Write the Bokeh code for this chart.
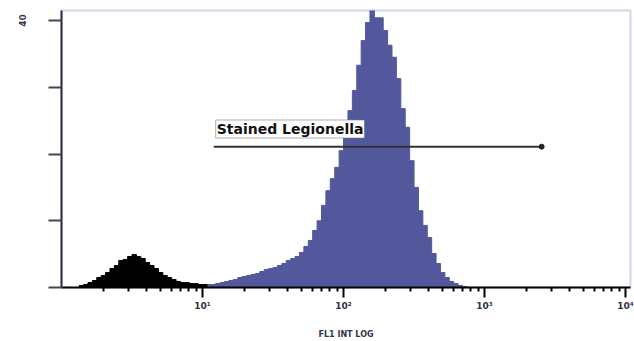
import numpy as np
from bokeh.plotting import figure
from bokeh.models import Label, FixedTicker
from bokeh.embed import file_html
from bokeh.resources import INLINE

# histogram channels: 32 channels per decade, log scale 10^0 .. 10^4
channels_per_decade = 32
unstained_start = 4
unstained_counts = [0.3, 0.45, 0.75, 1.05, 1.5, 1.8, 2.25, 2.85, 3.3, 4.05, 4.2, 4.65, 4.95, 4.65,
                    4.35, 3.75, 3.3, 2.85, 2.25, 1.8, 1.5, 1.2, 0.9, 0.75, 0.75, 0.6, 0.6, 0.45, 0.45]
stained_start = 33
stained_counts = [0.45, 0.45, 0.6, 0.75, 0.9, 1.05, 1.2, 1.5, 1.65, 1.8, 1.95, 2.1, 2.4, 2.7, 2.85,
                  3.0, 3.3, 3.6, 4.05, 4.35, 4.65, 5.25, 6.15, 7.05, 8.55, 10.0, 12.3, 14.5, 16.3,
                  18.0, 20.5, 23.8, 26.5, 29.5, 33.3, 37.0, 39.7, 42.0, 40.4, 40.4, 38.5, 36.3, 34.5,
                  31.3, 26.8, 24.0, 19.0, 15.0, 11.5, 9.3, 7.5, 5.1, 3.6, 2.25, 1.5, 0.9, 0.6, 0.3, 0.15]

x_ticks = [10, 100, 1000, 10000]
x_tick_labels = ["10\u00b9", "10\u00b2", "10\u00b3", "10\u2074"]
y_ticks = [0, 10, 20, 30, 40]
y_tick_labels = ["", "", "", "", "40"]

gate_lo, gate_hi, gate_y = 12.0, 2540.0, 21.1
gate_text = "Stained Legionella"
gate_text_x, gate_text_y = 12.4, 22.4
x_axis_title = "FL1 INT LOG"

BLUE = "#52589b"

p = figure(width=634, height=341, x_axis_type="log", x_range=(1, 10**4.035), y_range=(0, 41.5),
           output_backend="svg", toolbar_location=None,
           min_border_left=61, min_border_right=4, min_border_top=10, min_border_bottom=54)
p.grid.visible = False
p.background_fill_color = "white"
p.border_fill_color = "white"
p.outline_line_color = "#d6d6ea"
p.outline_line_width = 2


def step_outline(start, counts):
    idx = np.arange(start, start + len(counts))
    left = 10 ** (idx / channels_per_decade)
    right = 10 ** ((idx + 1) / channels_per_decade)
    c = np.asarray(counts, dtype=float)
    xs = np.concatenate([[left[0]], np.column_stack([left, right]).ravel(), [right[-1]]])
    ys = np.concatenate([[0.0], np.column_stack([c, c]).ravel(), [0.0]])
    return xs, ys


xs, ys = step_outline(stained_start, stained_counts)
p.patch(xs, ys, fill_color=BLUE, line_color=BLUE, line_width=1)
xs, ys = step_outline(unstained_start, unstained_counts)
p.patch(xs, ys, fill_color="black", line_color="black", line_width=1)

# gate
p.segment(x0=[gate_lo], y0=[gate_y], x1=[gate_hi], y1=[gate_y], line_color="#333333", line_width=2)
p.scatter(x=[gate_hi], y=[gate_y], size=5, color="#222222")
p.add_layout(Label(x=gate_text_x, y=gate_text_y, text=gate_text, text_font="DejaVu Sans",
                   text_font_style="bold", text_font_size="14px", text_color="#111111",
                   background_fill_color="white", border_line_color="#777777", border_line_alpha=0.6,
                   padding=1))

# x axis
xa = p.xaxis[0]
minor = [m * d / 10 for d in [10] + x_ticks for m in range(2, 10)]
xa.ticker = FixedTicker(ticks=x_ticks, minor_ticks=minor)
xa.major_label_overrides = {t: s for t, s in zip(x_ticks, x_tick_labels)}
xa.axis_line_color = "black"
xa.axis_line_width = 2
xa.major_tick_out = 10
xa.major_tick_in = 0
xa.major_tick_line_width = 2
xa.minor_tick_out = 4
xa.minor_tick_in = 0
xa.minor_tick_line_width = 2
xa.major_label_text_font = "DejaVu Sans"
xa.major_label_text_font_size = "9px"
xa.major_label_text_font_style = "bold"
xa.major_label_text_color = "#333344"
xa.major_label_standoff = 3
xa.axis_label = x_axis_title
xa.axis_label_text_font = "DejaVu Sans"
xa.axis_label_text_font_size = "8px"
xa.axis_label_text_font_style = "bold"
xa.axis_label_text_color = "#333344"
xa.axis_label_standoff = 16

# y axis
ya = p.yaxis[0]
ya.ticker = FixedTicker(ticks=y_ticks, minor_ticks=[])
ya.major_label_overrides = {t: s for t, s in zip(y_ticks, y_tick_labels)}
ya.major_label_orientation = "vertical"
ya.major_label_standoff = 22
ya.major_label_text_font = "DejaVu Sans"
ya.major_label_text_font_style = "bold"
ya.major_label_text_font_size = "9px"
ya.major_label_text_color = "#333344"
ya.axis_line_color = "#262b48"
ya.axis_line_width = 2
ya.major_tick_out = 13
ya.major_tick_in = 0
ya.major_tick_line_width = 2
ya.major_tick_line_color = "#444455"

open("out.html", "w").write(file_html(p, INLINE))
